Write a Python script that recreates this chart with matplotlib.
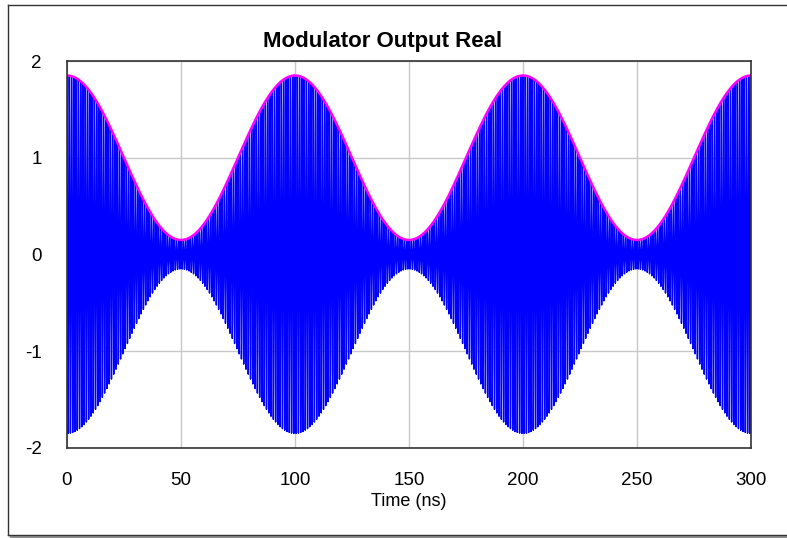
import numpy as np
import matplotlib
matplotlib.use("Agg")
import matplotlib.pyplot as plt
from matplotlib.lines import Line2D

# values
t_start, t_stop = 0.0, 300.0      # ns
env_mean = 1.0                    # centre of envelope
env_depth = 0.85                  # peak 1.85, trough 0.15
env_period = 100.0                # ns between envelope peaks
carrier_freq = 1.0                # GHz
sample_step = 0.1                 # ns

x_ticks = [0, 50, 100, 150, 200, 250, 300]
y_ticks = [-2, -1, 0, 1, 2]

t = np.arange(t_start, t_stop + sample_step, sample_step)
envelope = env_mean + env_depth * np.cos(2 * np.pi * t / env_period)
signal = envelope * np.cos(2 * np.pi * carrier_freq * t)

plt.rcParams["font.family"] = ["Liberation Sans", "DejaVu Sans"]
plt.rcParams["axes.unicode_minus"] = False

fig = plt.figure(figsize=(7.87, 5.38), dpi=100)
W, H = 787, 538

def px(x, y):
    return x / W, 1 - y / H

# outer frame (left, top, bottom) with shadow under the bottom edge
for (x0, y0), (x1, y1), c, lw in [
    ((8, 5), (8, 535), "#333333", 1.0),
    ((8, 5), (800, 5), "#333333", 1.0),
    ((11, 537), (800, 537), "#909090", 2.5),
    ((8, 535), (800, 535), "#333333", 1.0),
]:
    a, b = px(x0, y0)
    c2, d = px(x1, y1)
    fig.add_artist(Line2D([a, c2], [b, d], transform=fig.transFigure, color=c, linewidth=lw))

ax = fig.add_axes([67 / W, (538 - 448) / H, (751 - 67) / W, (448 - 61) / H])
ax.plot(t, signal, color="#0000ff", linewidth=1.05)
ax.plot(t, envelope, color="#ff00ff", linewidth=1.8)

ax.set_xlim(0, 300)
ax.set_ylim(-2, 2)
ax.set_xticks(x_ticks)
ax.set_yticks(y_ticks)
ax.grid(True, color="#c8c8c8", linewidth=1)
ax.set_axisbelow(True)
ax.tick_params(axis="both", length=0, labelsize=13.5)
ax.tick_params(axis="x", pad=17)
ax.tick_params(axis="y", pad=18)
for s in ax.spines.values():
    s.set_color("#333333")
    s.set_linewidth(1.2)

fig.text(383 / W, 1 - 41 / H, "Modulator Output Real", fontsize=16, fontweight="bold",
         ha="center", va="center")
ax.set_xlabel("Time (ns)", fontsize=13, labelpad=3)

fig.savefig("out.png", dpi=100)
